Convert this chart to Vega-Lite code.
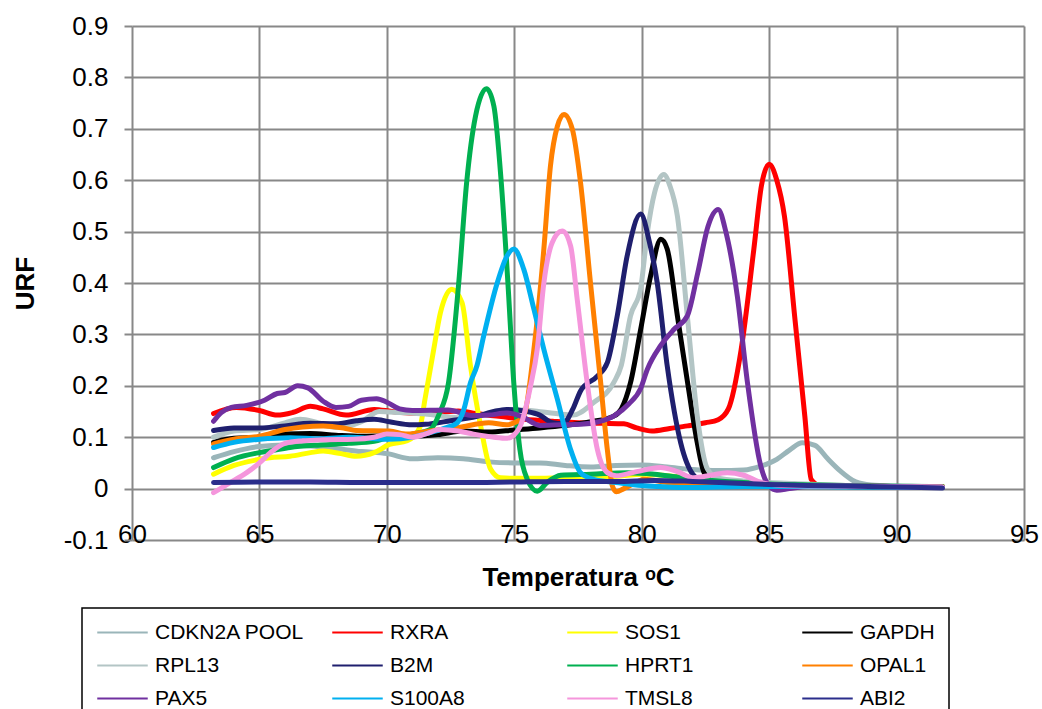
{
  "$schema": "https://vega.github.io/schema/vega-lite/v6.json",
  "width": 892,
  "height": 514,
  "autosize": {"type": "none"},
  "padding": {"left": 132, "top": 26, "right": 18, "bottom": 169},
  "background": "white",
  "config": {"view": {"stroke": null}, "font": "Liberation Sans"},
  "data": {
    "values": [
      {"gene": "CDKN2A POOL", "temp": 63.2, "urf": 0.06},
      {"gene": "CDKN2A POOL", "temp": 64.0, "urf": 0.072},
      {"gene": "CDKN2A POOL", "temp": 65.0, "urf": 0.082},
      {"gene": "CDKN2A POOL", "temp": 66.0, "urf": 0.085},
      {"gene": "CDKN2A POOL", "temp": 67.0, "urf": 0.083},
      {"gene": "CDKN2A POOL", "temp": 68.0, "urf": 0.078},
      {"gene": "CDKN2A POOL", "temp": 69.0, "urf": 0.072},
      {"gene": "CDKN2A POOL", "temp": 70.0, "urf": 0.068},
      {"gene": "CDKN2A POOL", "temp": 71.0, "urf": 0.058},
      {"gene": "CDKN2A POOL", "temp": 72.0, "urf": 0.06},
      {"gene": "CDKN2A POOL", "temp": 73.0, "urf": 0.058},
      {"gene": "CDKN2A POOL", "temp": 74.0, "urf": 0.052},
      {"gene": "CDKN2A POOL", "temp": 75.0, "urf": 0.05},
      {"gene": "CDKN2A POOL", "temp": 76.0, "urf": 0.05},
      {"gene": "CDKN2A POOL", "temp": 77.0, "urf": 0.045},
      {"gene": "CDKN2A POOL", "temp": 78.0, "urf": 0.042},
      {"gene": "CDKN2A POOL", "temp": 79.0, "urf": 0.045},
      {"gene": "CDKN2A POOL", "temp": 80.0, "urf": 0.046},
      {"gene": "CDKN2A POOL", "temp": 81.0, "urf": 0.042},
      {"gene": "CDKN2A POOL", "temp": 82.0, "urf": 0.037},
      {"gene": "CDKN2A POOL", "temp": 83.0, "urf": 0.035},
      {"gene": "CDKN2A POOL", "temp": 84.0, "urf": 0.036},
      {"gene": "CDKN2A POOL", "temp": 84.7, "urf": 0.044},
      {"gene": "CDKN2A POOL", "temp": 85.3, "urf": 0.057},
      {"gene": "CDKN2A POOL", "temp": 85.8, "urf": 0.075},
      {"gene": "CDKN2A POOL", "temp": 86.3, "urf": 0.089},
      {"gene": "CDKN2A POOL", "temp": 86.8, "urf": 0.084},
      {"gene": "CDKN2A POOL", "temp": 87.3, "urf": 0.058},
      {"gene": "CDKN2A POOL", "temp": 87.8, "urf": 0.034},
      {"gene": "CDKN2A POOL", "temp": 88.4, "urf": 0.013},
      {"gene": "CDKN2A POOL", "temp": 89.0, "urf": 0.007},
      {"gene": "CDKN2A POOL", "temp": 90.0, "urf": 0.005},
      {"gene": "CDKN2A POOL", "temp": 91.0, "urf": 0.004},
      {"gene": "CDKN2A POOL", "temp": 91.8, "urf": 0.003},

      {"gene": "RXRA", "temp": 63.2, "urf": 0.146},
      {"gene": "RXRA", "temp": 64.1, "urf": 0.158},
      {"gene": "RXRA", "temp": 65.0, "urf": 0.152},
      {"gene": "RXRA", "temp": 65.7, "urf": 0.143},
      {"gene": "RXRA", "temp": 66.3, "urf": 0.148},
      {"gene": "RXRA", "temp": 67.0, "urf": 0.16},
      {"gene": "RXRA", "temp": 67.5, "urf": 0.155},
      {"gene": "RXRA", "temp": 68.4, "urf": 0.143},
      {"gene": "RXRA", "temp": 69.5, "urf": 0.154},
      {"gene": "RXRA", "temp": 70.2, "urf": 0.15},
      {"gene": "RXRA", "temp": 71.0, "urf": 0.147},
      {"gene": "RXRA", "temp": 72.0, "urf": 0.148},
      {"gene": "RXRA", "temp": 72.8, "urf": 0.151},
      {"gene": "RXRA", "temp": 73.5, "urf": 0.146},
      {"gene": "RXRA", "temp": 74.3, "urf": 0.141},
      {"gene": "RXRA", "temp": 75.4, "urf": 0.135},
      {"gene": "RXRA", "temp": 76.5, "urf": 0.131},
      {"gene": "RXRA", "temp": 77.5, "urf": 0.128},
      {"gene": "RXRA", "temp": 78.5, "urf": 0.127},
      {"gene": "RXRA", "temp": 79.3, "urf": 0.126},
      {"gene": "RXRA", "temp": 79.8, "urf": 0.118},
      {"gene": "RXRA", "temp": 80.4, "urf": 0.112},
      {"gene": "RXRA", "temp": 81.1, "urf": 0.117},
      {"gene": "RXRA", "temp": 81.8, "urf": 0.122},
      {"gene": "RXRA", "temp": 82.5, "urf": 0.128},
      {"gene": "RXRA", "temp": 83.0, "urf": 0.134},
      {"gene": "RXRA", "temp": 83.4, "urf": 0.155},
      {"gene": "RXRA", "temp": 83.9, "urf": 0.27},
      {"gene": "RXRA", "temp": 84.4, "urf": 0.466},
      {"gene": "RXRA", "temp": 84.7, "urf": 0.59},
      {"gene": "RXRA", "temp": 85.0, "urf": 0.631},
      {"gene": "RXRA", "temp": 85.3, "urf": 0.6},
      {"gene": "RXRA", "temp": 85.6, "urf": 0.53},
      {"gene": "RXRA", "temp": 86.0, "urf": 0.336},
      {"gene": "RXRA", "temp": 86.4, "urf": 0.141},
      {"gene": "RXRA", "temp": 86.65, "urf": 0.018},
      {"gene": "RXRA", "temp": 87.0, "urf": 0.006},
      {"gene": "RXRA", "temp": 88.0, "urf": 0.005},
      {"gene": "RXRA", "temp": 89.0, "urf": 0.005},
      {"gene": "RXRA", "temp": 90.0, "urf": 0.004},
      {"gene": "RXRA", "temp": 91.8, "urf": 0.004},

      {"gene": "SOS1", "temp": 63.2, "urf": 0.028},
      {"gene": "SOS1", "temp": 64.0, "urf": 0.045},
      {"gene": "SOS1", "temp": 64.8, "urf": 0.055},
      {"gene": "SOS1", "temp": 65.4, "urf": 0.06},
      {"gene": "SOS1", "temp": 66.2, "urf": 0.063},
      {"gene": "SOS1", "temp": 67.0, "urf": 0.07},
      {"gene": "SOS1", "temp": 67.5, "urf": 0.073},
      {"gene": "SOS1", "temp": 68.2, "urf": 0.068},
      {"gene": "SOS1", "temp": 68.8, "urf": 0.063},
      {"gene": "SOS1", "temp": 69.5, "urf": 0.07},
      {"gene": "SOS1", "temp": 70.1, "urf": 0.086},
      {"gene": "SOS1", "temp": 70.8, "urf": 0.093},
      {"gene": "SOS1", "temp": 71.3, "urf": 0.12},
      {"gene": "SOS1", "temp": 71.5, "urf": 0.175},
      {"gene": "SOS1", "temp": 71.84, "urf": 0.271},
      {"gene": "SOS1", "temp": 72.1, "urf": 0.342},
      {"gene": "SOS1", "temp": 72.55, "urf": 0.388},
      {"gene": "SOS1", "temp": 72.95, "urf": 0.362},
      {"gene": "SOS1", "temp": 73.28, "urf": 0.239},
      {"gene": "SOS1", "temp": 73.68, "urf": 0.122},
      {"gene": "SOS1", "temp": 74.07, "urf": 0.038},
      {"gene": "SOS1", "temp": 74.46, "urf": 0.021},
      {"gene": "SOS1", "temp": 75.0, "urf": 0.02},
      {"gene": "SOS1", "temp": 76.0, "urf": 0.02},
      {"gene": "SOS1", "temp": 77.0, "urf": 0.021},
      {"gene": "SOS1", "temp": 78.0, "urf": 0.02},
      {"gene": "SOS1", "temp": 79.0, "urf": 0.024},
      {"gene": "SOS1", "temp": 80.1, "urf": 0.028},
      {"gene": "SOS1", "temp": 81.0, "urf": 0.025},
      {"gene": "SOS1", "temp": 82.0, "urf": 0.02},
      {"gene": "SOS1", "temp": 83.0, "urf": 0.012},
      {"gene": "SOS1", "temp": 84.0, "urf": 0.009},
      {"gene": "SOS1", "temp": 85.0, "urf": 0.007},
      {"gene": "SOS1", "temp": 86.0, "urf": 0.006},
      {"gene": "SOS1", "temp": 88.0, "urf": 0.005},
      {"gene": "SOS1", "temp": 90.0, "urf": 0.004},
      {"gene": "SOS1", "temp": 91.8, "urf": 0.004},

      {"gene": "GAPDH", "temp": 63.2, "urf": 0.09},
      {"gene": "GAPDH", "temp": 64.0, "urf": 0.098},
      {"gene": "GAPDH", "temp": 65.0, "urf": 0.1},
      {"gene": "GAPDH", "temp": 66.0, "urf": 0.106},
      {"gene": "GAPDH", "temp": 67.0, "urf": 0.107},
      {"gene": "GAPDH", "temp": 68.0, "urf": 0.104},
      {"gene": "GAPDH", "temp": 69.0, "urf": 0.102},
      {"gene": "GAPDH", "temp": 70.0, "urf": 0.103},
      {"gene": "GAPDH", "temp": 71.0, "urf": 0.102},
      {"gene": "GAPDH", "temp": 72.0, "urf": 0.105},
      {"gene": "GAPDH", "temp": 73.0, "urf": 0.112},
      {"gene": "GAPDH", "temp": 74.0, "urf": 0.11},
      {"gene": "GAPDH", "temp": 75.0, "urf": 0.114},
      {"gene": "GAPDH", "temp": 76.0, "urf": 0.118},
      {"gene": "GAPDH", "temp": 77.0, "urf": 0.123},
      {"gene": "GAPDH", "temp": 78.0, "urf": 0.13},
      {"gene": "GAPDH", "temp": 78.9, "urf": 0.141},
      {"gene": "GAPDH", "temp": 79.2, "urf": 0.155},
      {"gene": "GAPDH", "temp": 79.56, "urf": 0.206},
      {"gene": "GAPDH", "temp": 79.96, "urf": 0.31},
      {"gene": "GAPDH", "temp": 80.35, "urf": 0.414},
      {"gene": "GAPDH", "temp": 80.75, "urf": 0.485},
      {"gene": "GAPDH", "temp": 81.0, "urf": 0.466},
      {"gene": "GAPDH", "temp": 81.4, "urf": 0.336},
      {"gene": "GAPDH", "temp": 81.8, "urf": 0.206},
      {"gene": "GAPDH", "temp": 82.18, "urf": 0.089},
      {"gene": "GAPDH", "temp": 82.45, "urf": 0.031},
      {"gene": "GAPDH", "temp": 82.8, "urf": 0.014},
      {"gene": "GAPDH", "temp": 84.0, "urf": 0.008},
      {"gene": "GAPDH", "temp": 85.0, "urf": 0.006},
      {"gene": "GAPDH", "temp": 86.0, "urf": 0.005},
      {"gene": "GAPDH", "temp": 88.0, "urf": 0.004},
      {"gene": "GAPDH", "temp": 90.0, "urf": 0.003},
      {"gene": "GAPDH", "temp": 91.8, "urf": 0.003},

      {"gene": "RPL13", "temp": 63.2, "urf": 0.1},
      {"gene": "RPL13", "temp": 64.0, "urf": 0.112},
      {"gene": "RPL13", "temp": 65.0, "urf": 0.115},
      {"gene": "RPL13", "temp": 66.0, "urf": 0.128},
      {"gene": "RPL13", "temp": 66.6, "urf": 0.135},
      {"gene": "RPL13", "temp": 67.3, "urf": 0.128},
      {"gene": "RPL13", "temp": 68.0, "urf": 0.119},
      {"gene": "RPL13", "temp": 69.0, "urf": 0.13},
      {"gene": "RPL13", "temp": 69.7, "urf": 0.15},
      {"gene": "RPL13", "temp": 70.5, "urf": 0.148},
      {"gene": "RPL13", "temp": 71.5, "urf": 0.145},
      {"gene": "RPL13", "temp": 72.8, "urf": 0.138},
      {"gene": "RPL13", "temp": 73.5, "urf": 0.14},
      {"gene": "RPL13", "temp": 74.2, "urf": 0.15},
      {"gene": "RPL13", "temp": 75.0, "urf": 0.154},
      {"gene": "RPL13", "temp": 76.3, "urf": 0.148},
      {"gene": "RPL13", "temp": 77.3, "urf": 0.143},
      {"gene": "RPL13", "temp": 78.1, "urf": 0.167},
      {"gene": "RPL13", "temp": 78.9, "urf": 0.206},
      {"gene": "RPL13", "temp": 79.2, "urf": 0.24},
      {"gene": "RPL13", "temp": 79.56, "urf": 0.336},
      {"gene": "RPL13", "temp": 79.96, "urf": 0.39},
      {"gene": "RPL13", "temp": 80.22, "urf": 0.498},
      {"gene": "RPL13", "temp": 80.5, "urf": 0.575},
      {"gene": "RPL13", "temp": 80.87, "urf": 0.611},
      {"gene": "RPL13", "temp": 81.1, "urf": 0.59},
      {"gene": "RPL13", "temp": 81.4, "urf": 0.53},
      {"gene": "RPL13", "temp": 81.79, "urf": 0.336},
      {"gene": "RPL13", "temp": 82.18, "urf": 0.141},
      {"gene": "RPL13", "temp": 82.58, "urf": 0.038},
      {"gene": "RPL13", "temp": 83.0, "urf": 0.02},
      {"gene": "RPL13", "temp": 84.0, "urf": 0.015},
      {"gene": "RPL13", "temp": 85.0, "urf": 0.012},
      {"gene": "RPL13", "temp": 86.0, "urf": 0.01},
      {"gene": "RPL13", "temp": 88.0, "urf": 0.006},
      {"gene": "RPL13", "temp": 90.0, "urf": 0.004},
      {"gene": "RPL13", "temp": 91.8, "urf": 0.003},

      {"gene": "B2M", "temp": 63.2, "urf": 0.113},
      {"gene": "B2M", "temp": 64.0, "urf": 0.118},
      {"gene": "B2M", "temp": 65.0, "urf": 0.118},
      {"gene": "B2M", "temp": 66.0, "urf": 0.122},
      {"gene": "B2M", "temp": 67.0, "urf": 0.127},
      {"gene": "B2M", "temp": 68.0, "urf": 0.126},
      {"gene": "B2M", "temp": 68.8, "urf": 0.132},
      {"gene": "B2M", "temp": 69.5, "urf": 0.135},
      {"gene": "B2M", "temp": 70.1, "urf": 0.13},
      {"gene": "B2M", "temp": 71.0, "urf": 0.124},
      {"gene": "B2M", "temp": 71.5, "urf": 0.125},
      {"gene": "B2M", "temp": 72.5, "urf": 0.132},
      {"gene": "B2M", "temp": 73.5, "urf": 0.14},
      {"gene": "B2M", "temp": 74.2, "urf": 0.15},
      {"gene": "B2M", "temp": 74.7, "urf": 0.154},
      {"gene": "B2M", "temp": 75.5, "urf": 0.15},
      {"gene": "B2M", "temp": 76.0, "urf": 0.143},
      {"gene": "B2M", "temp": 76.5, "urf": 0.128},
      {"gene": "B2M", "temp": 76.9, "urf": 0.126},
      {"gene": "B2M", "temp": 77.3, "urf": 0.155},
      {"gene": "B2M", "temp": 77.6, "urf": 0.19},
      {"gene": "B2M", "temp": 78.26, "urf": 0.219},
      {"gene": "B2M", "temp": 78.65, "urf": 0.245},
      {"gene": "B2M", "temp": 79.04, "urf": 0.336},
      {"gene": "B2M", "temp": 79.43, "urf": 0.453},
      {"gene": "B2M", "temp": 79.96, "urf": 0.534},
      {"gene": "B2M", "temp": 80.3, "urf": 0.48},
      {"gene": "B2M", "temp": 80.61, "urf": 0.4},
      {"gene": "B2M", "temp": 81.0, "urf": 0.239},
      {"gene": "B2M", "temp": 81.53, "urf": 0.089},
      {"gene": "B2M", "temp": 82.05, "urf": 0.025},
      {"gene": "B2M", "temp": 82.5, "urf": 0.012},
      {"gene": "B2M", "temp": 83.0, "urf": 0.008},
      {"gene": "B2M", "temp": 85.0, "urf": 0.006},
      {"gene": "B2M", "temp": 88.0, "urf": 0.004},
      {"gene": "B2M", "temp": 91.8, "urf": 0.002},

      {"gene": "HPRT1", "temp": 63.2, "urf": 0.041},
      {"gene": "HPRT1", "temp": 64.0, "urf": 0.058},
      {"gene": "HPRT1", "temp": 65.0, "urf": 0.07},
      {"gene": "HPRT1", "temp": 65.5, "urf": 0.074},
      {"gene": "HPRT1", "temp": 66.2, "urf": 0.08},
      {"gene": "HPRT1", "temp": 67.4, "urf": 0.085},
      {"gene": "HPRT1", "temp": 68.5, "urf": 0.088},
      {"gene": "HPRT1", "temp": 69.5, "urf": 0.092},
      {"gene": "HPRT1", "temp": 70.1, "urf": 0.1},
      {"gene": "HPRT1", "temp": 71.0, "urf": 0.106},
      {"gene": "HPRT1", "temp": 71.7, "urf": 0.115},
      {"gene": "HPRT1", "temp": 72.05, "urf": 0.145},
      {"gene": "HPRT1", "temp": 72.42, "urf": 0.206},
      {"gene": "HPRT1", "temp": 72.82, "urf": 0.4},
      {"gene": "HPRT1", "temp": 73.13, "urf": 0.595},
      {"gene": "HPRT1", "temp": 73.48, "urf": 0.725},
      {"gene": "HPRT1", "temp": 73.91, "urf": 0.778},
      {"gene": "HPRT1", "temp": 74.2, "urf": 0.744},
      {"gene": "HPRT1", "temp": 74.49, "urf": 0.595},
      {"gene": "HPRT1", "temp": 74.75, "urf": 0.4},
      {"gene": "HPRT1", "temp": 74.98, "urf": 0.206},
      {"gene": "HPRT1", "temp": 75.22, "urf": 0.076},
      {"gene": "HPRT1", "temp": 75.51, "urf": 0.018},
      {"gene": "HPRT1", "temp": 75.9, "urf": -0.005},
      {"gene": "HPRT1", "temp": 76.29, "urf": 0.012},
      {"gene": "HPRT1", "temp": 76.82, "urf": 0.026},
      {"gene": "HPRT1", "temp": 78.0, "urf": 0.028},
      {"gene": "HPRT1", "temp": 79.43, "urf": 0.031},
      {"gene": "HPRT1", "temp": 80.5, "urf": 0.028},
      {"gene": "HPRT1", "temp": 81.5, "urf": 0.022},
      {"gene": "HPRT1", "temp": 83.0, "urf": 0.015},
      {"gene": "HPRT1", "temp": 84.0, "urf": 0.012},
      {"gene": "HPRT1", "temp": 85.0, "urf": 0.009},
      {"gene": "HPRT1", "temp": 87.0, "urf": 0.007},
      {"gene": "HPRT1", "temp": 89.0, "urf": 0.005},
      {"gene": "HPRT1", "temp": 91.8, "urf": 0.004},

      {"gene": "OPAL1", "temp": 63.2, "urf": 0.087},
      {"gene": "OPAL1", "temp": 64.0, "urf": 0.096},
      {"gene": "OPAL1", "temp": 65.0, "urf": 0.102},
      {"gene": "OPAL1", "temp": 66.0, "urf": 0.115},
      {"gene": "OPAL1", "temp": 66.7, "urf": 0.12},
      {"gene": "OPAL1", "temp": 67.5, "urf": 0.122},
      {"gene": "OPAL1", "temp": 68.3, "urf": 0.118},
      {"gene": "OPAL1", "temp": 68.8, "urf": 0.113},
      {"gene": "OPAL1", "temp": 70.1, "urf": 0.112},
      {"gene": "OPAL1", "temp": 70.8, "urf": 0.106},
      {"gene": "OPAL1", "temp": 71.7, "urf": 0.112},
      {"gene": "OPAL1", "temp": 72.8, "urf": 0.119},
      {"gene": "OPAL1", "temp": 74.0, "urf": 0.128},
      {"gene": "OPAL1", "temp": 74.7, "urf": 0.124},
      {"gene": "OPAL1", "temp": 75.0, "urf": 0.128},
      {"gene": "OPAL1", "temp": 75.37, "urf": 0.141},
      {"gene": "OPAL1", "temp": 75.77, "urf": 0.271},
      {"gene": "OPAL1", "temp": 76.16, "urf": 0.466},
      {"gene": "OPAL1", "temp": 76.42, "urf": 0.628},
      {"gene": "OPAL1", "temp": 76.69, "urf": 0.705},
      {"gene": "OPAL1", "temp": 76.95, "urf": 0.728},
      {"gene": "OPAL1", "temp": 77.28, "urf": 0.699},
      {"gene": "OPAL1", "temp": 77.6, "urf": 0.595},
      {"gene": "OPAL1", "temp": 77.99, "urf": 0.4},
      {"gene": "OPAL1", "temp": 78.39, "urf": 0.206},
      {"gene": "OPAL1", "temp": 78.65, "urf": 0.076},
      {"gene": "OPAL1", "temp": 78.85, "urf": 0.005},
      {"gene": "OPAL1", "temp": 79.0, "urf": -0.006},
      {"gene": "OPAL1", "temp": 79.3, "urf": 0.0},
      {"gene": "OPAL1", "temp": 79.7, "urf": 0.01},
      {"gene": "OPAL1", "temp": 80.1, "urf": 0.018},
      {"gene": "OPAL1", "temp": 81.0, "urf": 0.012},
      {"gene": "OPAL1", "temp": 82.0, "urf": 0.009},
      {"gene": "OPAL1", "temp": 83.0, "urf": 0.007},
      {"gene": "OPAL1", "temp": 85.0, "urf": 0.005},
      {"gene": "OPAL1", "temp": 88.0, "urf": 0.004},
      {"gene": "OPAL1", "temp": 91.8, "urf": 0.003},

      {"gene": "PAX5", "temp": 63.2, "urf": 0.131},
      {"gene": "PAX5", "temp": 63.5, "urf": 0.148},
      {"gene": "PAX5", "temp": 63.9, "urf": 0.158},
      {"gene": "PAX5", "temp": 64.5, "urf": 0.162},
      {"gene": "PAX5", "temp": 65.2, "urf": 0.172},
      {"gene": "PAX5", "temp": 65.7, "urf": 0.185},
      {"gene": "PAX5", "temp": 66.0, "urf": 0.187},
      {"gene": "PAX5", "temp": 66.5, "urf": 0.2},
      {"gene": "PAX5", "temp": 66.9, "urf": 0.196},
      {"gene": "PAX5", "temp": 67.5, "urf": 0.17},
      {"gene": "PAX5", "temp": 68.0, "urf": 0.158},
      {"gene": "PAX5", "temp": 68.5, "urf": 0.16},
      {"gene": "PAX5", "temp": 69.0, "urf": 0.172},
      {"gene": "PAX5", "temp": 69.6, "urf": 0.175},
      {"gene": "PAX5", "temp": 70.0, "urf": 0.168},
      {"gene": "PAX5", "temp": 70.5, "urf": 0.155},
      {"gene": "PAX5", "temp": 71.0, "urf": 0.152},
      {"gene": "PAX5", "temp": 72.4, "urf": 0.153},
      {"gene": "PAX5", "temp": 73.4, "urf": 0.142},
      {"gene": "PAX5", "temp": 74.0, "urf": 0.143},
      {"gene": "PAX5", "temp": 74.7, "urf": 0.147},
      {"gene": "PAX5", "temp": 75.3, "urf": 0.14},
      {"gene": "PAX5", "temp": 76.0, "urf": 0.123},
      {"gene": "PAX5", "temp": 76.8, "urf": 0.124},
      {"gene": "PAX5", "temp": 77.6, "urf": 0.125},
      {"gene": "PAX5", "temp": 78.3, "urf": 0.13},
      {"gene": "PAX5", "temp": 78.9, "urf": 0.141},
      {"gene": "PAX5", "temp": 79.5, "urf": 0.165},
      {"gene": "PAX5", "temp": 79.96, "urf": 0.195},
      {"gene": "PAX5", "temp": 80.22, "urf": 0.232},
      {"gene": "PAX5", "temp": 80.74, "urf": 0.278},
      {"gene": "PAX5", "temp": 81.27, "urf": 0.31},
      {"gene": "PAX5", "temp": 81.79, "urf": 0.336},
      {"gene": "PAX5", "temp": 82.2, "urf": 0.42},
      {"gene": "PAX5", "temp": 82.6, "urf": 0.51},
      {"gene": "PAX5", "temp": 83.0, "urf": 0.543},
      {"gene": "PAX5", "temp": 83.3, "urf": 0.5},
      {"gene": "PAX5", "temp": 83.75, "urf": 0.375},
      {"gene": "PAX5", "temp": 84.15, "urf": 0.206},
      {"gene": "PAX5", "temp": 84.67, "urf": 0.044},
      {"gene": "PAX5", "temp": 85.0, "urf": 0.005},
      {"gene": "PAX5", "temp": 85.3, "urf": -0.003},
      {"gene": "PAX5", "temp": 85.8, "urf": 0.0},
      {"gene": "PAX5", "temp": 86.5, "urf": 0.004},
      {"gene": "PAX5", "temp": 88.0, "urf": 0.005},
      {"gene": "PAX5", "temp": 90.0, "urf": 0.004},
      {"gene": "PAX5", "temp": 91.8, "urf": 0.003},

      {"gene": "S100A8", "temp": 63.2, "urf": 0.08},
      {"gene": "S100A8", "temp": 64.0, "urf": 0.09},
      {"gene": "S100A8", "temp": 65.0, "urf": 0.096},
      {"gene": "S100A8", "temp": 66.2, "urf": 0.099},
      {"gene": "S100A8", "temp": 67.4, "urf": 0.097},
      {"gene": "S100A8", "temp": 68.5, "urf": 0.1},
      {"gene": "S100A8", "temp": 70.1, "urf": 0.096},
      {"gene": "S100A8", "temp": 71.0, "urf": 0.1},
      {"gene": "S100A8", "temp": 71.7, "urf": 0.109},
      {"gene": "S100A8", "temp": 72.37, "urf": 0.119},
      {"gene": "S100A8", "temp": 72.76, "urf": 0.128},
      {"gene": "S100A8", "temp": 73.02, "urf": 0.154},
      {"gene": "S100A8", "temp": 73.28, "urf": 0.206},
      {"gene": "S100A8", "temp": 73.54, "urf": 0.24},
      {"gene": "S100A8", "temp": 73.8, "urf": 0.297},
      {"gene": "S100A8", "temp": 74.33, "urf": 0.4},
      {"gene": "S100A8", "temp": 74.72, "urf": 0.453},
      {"gene": "S100A8", "temp": 74.98, "urf": 0.466},
      {"gene": "S100A8", "temp": 75.37, "urf": 0.427},
      {"gene": "S100A8", "temp": 75.77, "urf": 0.349},
      {"gene": "S100A8", "temp": 76.16, "urf": 0.271},
      {"gene": "S100A8", "temp": 76.69, "urf": 0.174},
      {"gene": "S100A8", "temp": 77.21, "urf": 0.076},
      {"gene": "S100A8", "temp": 77.6, "urf": 0.031},
      {"gene": "S100A8", "temp": 78.12, "urf": 0.018},
      {"gene": "S100A8", "temp": 79.0, "urf": 0.012},
      {"gene": "S100A8", "temp": 80.0, "urf": 0.006},
      {"gene": "S100A8", "temp": 80.74, "urf": 0.004},
      {"gene": "S100A8", "temp": 82.0, "urf": 0.002},
      {"gene": "S100A8", "temp": 84.0, "urf": 0.004},
      {"gene": "S100A8", "temp": 86.0, "urf": 0.004},
      {"gene": "S100A8", "temp": 88.0, "urf": 0.003},
      {"gene": "S100A8", "temp": 91.8, "urf": 0.002},

      {"gene": "TMSL8", "temp": 63.2, "urf": -0.008},
      {"gene": "TMSL8", "temp": 63.8, "urf": 0.01},
      {"gene": "TMSL8", "temp": 64.5, "urf": 0.031},
      {"gene": "TMSL8", "temp": 65.0, "urf": 0.05},
      {"gene": "TMSL8", "temp": 65.43, "urf": 0.07},
      {"gene": "TMSL8", "temp": 66.0, "urf": 0.088},
      {"gene": "TMSL8", "temp": 66.7, "urf": 0.093},
      {"gene": "TMSL8", "temp": 67.5, "urf": 0.095},
      {"gene": "TMSL8", "temp": 68.7, "urf": 0.096},
      {"gene": "TMSL8", "temp": 69.5, "urf": 0.1},
      {"gene": "TMSL8", "temp": 70.0, "urf": 0.106},
      {"gene": "TMSL8", "temp": 70.5, "urf": 0.105},
      {"gene": "TMSL8", "temp": 71.0, "urf": 0.1},
      {"gene": "TMSL8", "temp": 71.5, "urf": 0.106},
      {"gene": "TMSL8", "temp": 72.1, "urf": 0.115},
      {"gene": "TMSL8", "temp": 72.8, "urf": 0.112},
      {"gene": "TMSL8", "temp": 73.4, "urf": 0.106},
      {"gene": "TMSL8", "temp": 74.2, "urf": 0.1},
      {"gene": "TMSL8", "temp": 74.72, "urf": 0.098},
      {"gene": "TMSL8", "temp": 75.0, "urf": 0.105},
      {"gene": "TMSL8", "temp": 75.24, "urf": 0.122},
      {"gene": "TMSL8", "temp": 75.64, "urf": 0.2},
      {"gene": "TMSL8", "temp": 75.9, "urf": 0.271},
      {"gene": "TMSL8", "temp": 76.16, "urf": 0.4},
      {"gene": "TMSL8", "temp": 76.49, "urf": 0.479},
      {"gene": "TMSL8", "temp": 76.88, "urf": 0.501},
      {"gene": "TMSL8", "temp": 77.21, "urf": 0.472},
      {"gene": "TMSL8", "temp": 77.47, "urf": 0.368},
      {"gene": "TMSL8", "temp": 77.86, "urf": 0.206},
      {"gene": "TMSL8", "temp": 78.26, "urf": 0.076},
      {"gene": "TMSL8", "temp": 78.65, "urf": 0.031},
      {"gene": "TMSL8", "temp": 79.0, "urf": 0.025},
      {"gene": "TMSL8", "temp": 79.8, "urf": 0.033},
      {"gene": "TMSL8", "temp": 80.74, "urf": 0.041},
      {"gene": "TMSL8", "temp": 81.4, "urf": 0.033},
      {"gene": "TMSL8", "temp": 82.05, "urf": 0.021},
      {"gene": "TMSL8", "temp": 82.7, "urf": 0.026},
      {"gene": "TMSL8", "temp": 83.36, "urf": 0.031},
      {"gene": "TMSL8", "temp": 84.0, "urf": 0.026},
      {"gene": "TMSL8", "temp": 84.67, "urf": 0.012},
      {"gene": "TMSL8", "temp": 85.5, "urf": 0.006},
      {"gene": "TMSL8", "temp": 87.0, "urf": 0.005},
      {"gene": "TMSL8", "temp": 89.0, "urf": 0.004},
      {"gene": "TMSL8", "temp": 91.8, "urf": 0.003},

      {"gene": "ABI2", "temp": 63.2, "urf": 0.012},
      {"gene": "ABI2", "temp": 65.0, "urf": 0.013},
      {"gene": "ABI2", "temp": 67.0, "urf": 0.013},
      {"gene": "ABI2", "temp": 69.0, "urf": 0.012},
      {"gene": "ABI2", "temp": 71.0, "urf": 0.012},
      {"gene": "ABI2", "temp": 73.0, "urf": 0.012},
      {"gene": "ABI2", "temp": 75.0, "urf": 0.013},
      {"gene": "ABI2", "temp": 77.0, "urf": 0.014},
      {"gene": "ABI2", "temp": 79.0, "urf": 0.014},
      {"gene": "ABI2", "temp": 80.5, "urf": 0.016},
      {"gene": "ABI2", "temp": 82.0, "urf": 0.014},
      {"gene": "ABI2", "temp": 83.5, "urf": 0.011},
      {"gene": "ABI2", "temp": 85.0, "urf": 0.008},
      {"gene": "ABI2", "temp": 86.5, "urf": 0.006},
      {"gene": "ABI2", "temp": 88.0, "urf": 0.005},
      {"gene": "ABI2", "temp": 90.0, "urf": 0.003},
      {"gene": "ABI2", "temp": 91.8, "urf": 0.001}
    ]
  },
  "mark": {"type": "line", "interpolate": "monotone", "strokeWidth": 5, "strokeCap": "round", "strokeJoin": "round"},
  "encoding": {
    "x": {
      "field": "temp",
      "type": "quantitative",
      "scale": {"domain": [60, 95], "nice": false, "zero": false},
      "axis": {
        "values": [60, 65, 70, 75, 80, 85, 90, 95],
        "title": "Temperatura ᵒC",
        "grid": true,
        "gridColor": "#888888",
        "gridWidth": 2,
        "domain": false,
        "ticks": false,
        "labelFlush": false,
        "labelOverlap": false,
        "labelFont": "Liberation Sans",
        "labelFontSize": 26,
        "labelColor": "black",
        "labelBaseline": "alphabetic",
        "labelPadding": 2,
        "titleFont": "Liberation Sans",
        "titleFontSize": 26,
        "titleFontWeight": "bold",
        "titleColor": "black",
        "titleBaseline": "alphabetic",
        "titleX": 446,
        "titleY": 45
      }
    },
    "y": {
      "field": "urf",
      "type": "quantitative",
      "scale": {"domain": [-0.1, 0.9], "nice": false, "zero": false},
      "axis": {
        "values": [-0.1, 0, 0.1, 0.2, 0.3, 0.4, 0.5, 0.6, 0.7, 0.8, 0.9],
        "format": ".1~f",
        "labelExpr": "replace(datum.label, '−', '-')",
        "title": "URF",
        "grid": true,
        "gridColor": "#888888",
        "gridWidth": 2,
        "domain": false,
        "ticks": true,
        "tickColor": "#888888",
        "tickWidth": 2,
        "tickSize": 8,
        "labelFont": "Liberation Sans",
        "labelFontSize": 26,
        "labelColor": "black",
        "labelPadding": 16,
        "labelOverlap": false,
        "labelFlush": false,
        "titleFont": "Liberation Sans",
        "titleFontSize": 26,
        "titleFontWeight": "bold",
        "titleColor": "black",
        "titleBaseline": "alphabetic",
        "titleAngle": -90,
        "titleX": -99,
        "titleY": 257
      }
    },
    "color": {
      "field": "gene",
      "type": "nominal",
      "scale": {
        "domain": ["CDKN2A POOL", "RXRA", "SOS1", "GAPDH", "RPL13", "B2M", "HPRT1", "OPAL1", "PAX5", "S100A8", "TMSL8", "ABI2"],
        "range": ["#9AB5B9", "#FF0000", "#FFFF00", "#000000", "#B3C5C5", "#1F1F6E", "#00B050", "#FF8000", "#7030A0", "#00B0F0", "#F596DC", "#2B2E8C"]
      },
      "legend": {
        "orient": "none",
        "legendX": -50,
        "legendY": 582,
        "direction": "horizontal",
        "columns": 4,
        "title": null,
        "symbolType": "stroke",
        "symbolSize": 2550,
        "symbolStrokeWidth": 2,
        "clipHeight": 21,
        "labelFont": "Liberation Sans",
        "labelFontSize": 21,
        "labelColor": "black",
        "labelOffset": 6,
        "labelLimit": 0,
        "columnPadding": 26,
        "rowPadding": 11,
        "padding": 14,
        "gridAlign": "all",
        "strokeColor": "black",
        "encode": {"legend": {"update": {"strokeWidth": {"value": 1.5}}}}
      }
    }
  }
}
